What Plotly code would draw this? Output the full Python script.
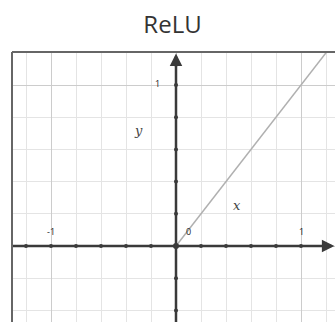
import plotly.graph_objects as go

# data
relu_x = [-1.4, 0.0, 1.3]
relu_y = [0.0, 0.0, 1.3]
tick_vals = [-1.2, -1.0, -0.8, -0.6, -0.4, -0.2, 0.2, 0.4, 0.6, 0.8, 1.0, 1.2]
ytick_vals = [-0.4, -0.2, 0.2, 0.4, 0.6, 0.8, 1.0]
xlabel_vals = [-1, 0, 1]
xlabel_text = ["-1", "0", "1"]
ylabel_vals = [1]
ylabel_text = ["1"]

XR = [-1.312, 1.272]
YR = [-0.472, 1.205]
axis_col = "#3a3a3a"

fig = go.Figure()

# ReLU line: only the positive part is drawn (negative part lies on the axis)
fig.add_trace(go.Scatter(x=relu_x[1:], y=relu_y[1:], mode="lines",
                         line=dict(color="#b0b0b0", width=1.5),
                         hoverinfo="skip", showlegend=False, cliponaxis=True))

# axes as shapes
fig.add_shape(type="line", x0=XR[0], x1=XR[1] - 0.03, y0=0, y1=0,
              line=dict(color=axis_col, width=2.5), layer="above")
fig.add_shape(type="line", x0=0, x1=0, y0=YR[0], y1=YR[1] - 0.03,
              line=dict(color=axis_col, width=2.5), layer="above")

# tick dots on axes
fig.add_trace(go.Scatter(x=tick_vals, y=[0] * len(tick_vals), mode="markers",
                         marker=dict(color=axis_col, size=4),
                         hoverinfo="skip", showlegend=False))
fig.add_trace(go.Scatter(x=[0] * len(ytick_vals), y=ytick_vals, mode="markers",
                         marker=dict(color=axis_col, size=4),
                         hoverinfo="skip", showlegend=False))
fig.add_trace(go.Scatter(x=[0], y=[0], mode="markers",
                         marker=dict(color=axis_col, size=6),
                         hoverinfo="skip", showlegend=False))

# arrowheads
fig.add_annotation(x=XR[1] - 0.005, y=0, ax=XR[1] - 0.1, ay=0, xref="x", yref="y",
                   axref="x", ayref="y", text="", showarrow=True,
                   arrowhead=2, arrowsize=1, arrowwidth=2.5, arrowcolor=axis_col)
fig.add_annotation(x=0, y=YR[1] - 0.01, ax=0, ay=YR[1] - 0.1, xref="x", yref="y",
                   axref="x", ayref="y", text="", showarrow=True,
                   arrowhead=2, arrowsize=1, arrowwidth=2.5, arrowcolor=axis_col)

# tick labels
for v, t in zip(xlabel_vals, xlabel_text):
    fig.add_annotation(x=v + (0.1 if v == 0 else 0), y=0.09, text=t, showarrow=False,
                       xref="x", yref="y",
                       font=dict(family="Open Sans", size=9, color="#222"))
for v, t in zip(ylabel_vals, ylabel_text):
    fig.add_annotation(x=-0.15, y=v + 0.01, text=t, showarrow=False,
                       xref="x", yref="y",
                       font=dict(family="Open Sans", size=9, color="#222"))

# axis names
fig.add_annotation(x=-0.3, y=0.72, text="<i>y</i>", showarrow=False, xref="x", yref="y",
                   font=dict(family="DejaVu Serif", size=13, color="#444"))
fig.add_annotation(x=0.49, y=0.25, text="<i>x</i>", showarrow=False, xref="x", yref="y",
                   font=dict(family="DejaVu Serif", size=13, color="#444"))

# frame (left and top border)
fig.add_shape(type="line", xref="paper", yref="paper", x0=0, x1=0, y0=0, y1=1,
              line=dict(color="#666", width=2), layer="above")
fig.add_shape(type="line", xref="paper", yref="paper", x0=0, x1=1, y0=1, y1=1,
              line=dict(color="#666", width=2), layer="above")

fig.update_layout(
    width=335, height=322,
    margin=dict(l=12, r=0, t=52, b=0),
    paper_bgcolor="white", plot_bgcolor="white",
    title=dict(text="ReLU", x=0.515, xanchor="center", y=0.925, yanchor="middle",
               font=dict(family="Open Sans", size=24, color="#333")),
    xaxis=dict(range=XR, dtick=1, tick0=0, showgrid=True, gridcolor="#cccccc",
               gridwidth=1, zeroline=False, showticklabels=False, ticks="",
               minor=dict(dtick=0.2, tick0=0, showgrid=True, gridcolor="#e4e4e4",
                          gridwidth=1),
               fixedrange=True),
    yaxis=dict(range=YR, dtick=1, tick0=0, showgrid=True, gridcolor="#cccccc",
               gridwidth=1, zeroline=False, showticklabels=False, ticks="",
               minor=dict(dtick=0.2, tick0=0, showgrid=True, gridcolor="#e4e4e4",
                          gridwidth=1),
               fixedrange=True),
    showlegend=False,
)

fig.write_html("out.html", config={"displayModeBar": False},
               post_script="document.body.style.margin='0';document.body.style.overflow='hidden';")
